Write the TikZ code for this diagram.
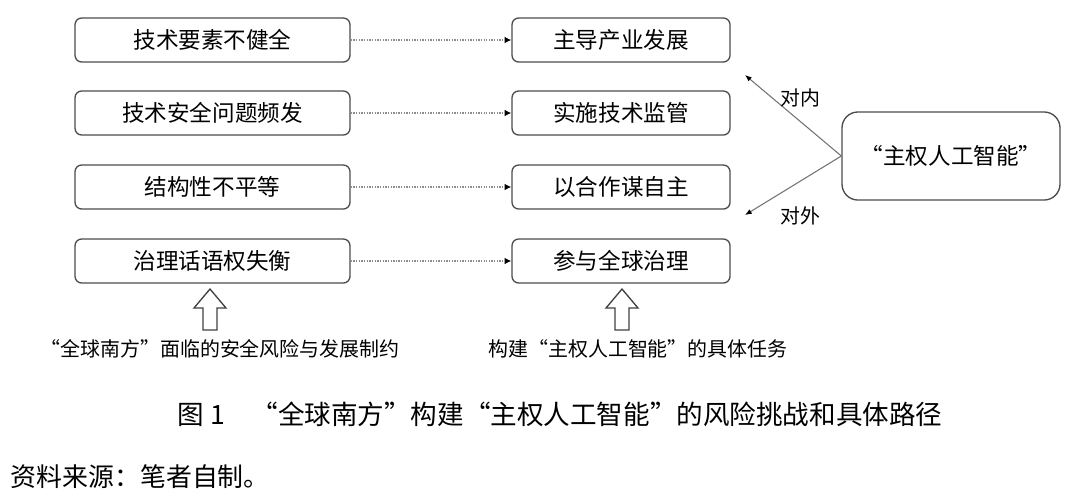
\documentclass[tikz,border=0pt]{standalone}
\usepackage{fontspec}
\newfontfamily\cjk{Noto Sans CJK SC}
\usetikzlibrary{arrows.meta}
\begin{document}
\begin{tikzpicture}[x=0.0264583cm,y=-0.0264583cm,
  box/.style={draw=black!70,line width=1pt,rounded corners=5pt,minimum height=1.164cm,inner sep=0pt,font=\cjk\fontsize{17}{17}\selectfont},
  lbox/.style={box,minimum width=7.276cm},
  mbox/.style={box,minimum width=5.768cm},
  dot/.style={densely dotted,draw=black!45,line width=1pt,-{Latex[length=5pt,width=5pt,black]}},
  lin/.style={draw=black!55,line width=0.8pt,-{Latex[length=5pt,width=4pt,black]}},
  lbl/.style={font=\cjk\fontsize{15}{15}\selectfont}]
\useasboundingbox (0,0) rectangle (1080,502);
\foreach \n/\y/\a/\b in {1/40/技术要素不健全/主导产业发展,2/113/技术安全问题频发/实施技术监管,3/187/结构性不平等/以合作谋自主,4/261/治理话语权失衡/参与全球治理}{
  \node[lbox] (L\n) at (212.5,\y) {\a};
  \node[mbox] (M\n) at (621,\y) {\b};
  \draw[dot] (L\n) -- (M\n);
}
\node[draw=black!70,line width=1pt,rounded corners=12pt,minimum width=5.768cm,minimum height=2.33cm,font=\cjk\fontsize{17}{17}\selectfont] (R) at (951,156) {“主权人工智能”};
\coordinate (t1) at (745,75);
\coordinate (t2) at (745,215);
\draw[lin] (R.west) -- (t1);
\draw[lin] (R.west) -- (t2);
\node[lbl] (dn) at (800,98) {对内};
\node[lbl] (dw) at (800,216) {对外};
\foreach \x in {210,622}{
  \draw[black!75,line width=1pt] (\x-7,330) -- (\x-7,308) -- (\x-16,308) -- (\x,289) -- (\x+16,308) -- (\x+7,308) -- (\x+7,330) -- cycle;
}
\node[lbl] (c1) at (220,349) {“全球南方”面临的安全风险与发展制约};
\node[lbl] (c2) at (638,349) {构建“主权人工智能”的具体任务};
\node[font=\cjk\fontsize{20}{20}\selectfont] (title) at (560,414) {图 1\quad “全球南方”构建“主权人工智能”的风险挑战和具体路径};
\node[font=\cjk\fontsize{19.5}{19.5}\selectfont,anchor=west] (src) at (6,477) {资料来源：笔者自制。};
\end{tikzpicture}
\end{document}
